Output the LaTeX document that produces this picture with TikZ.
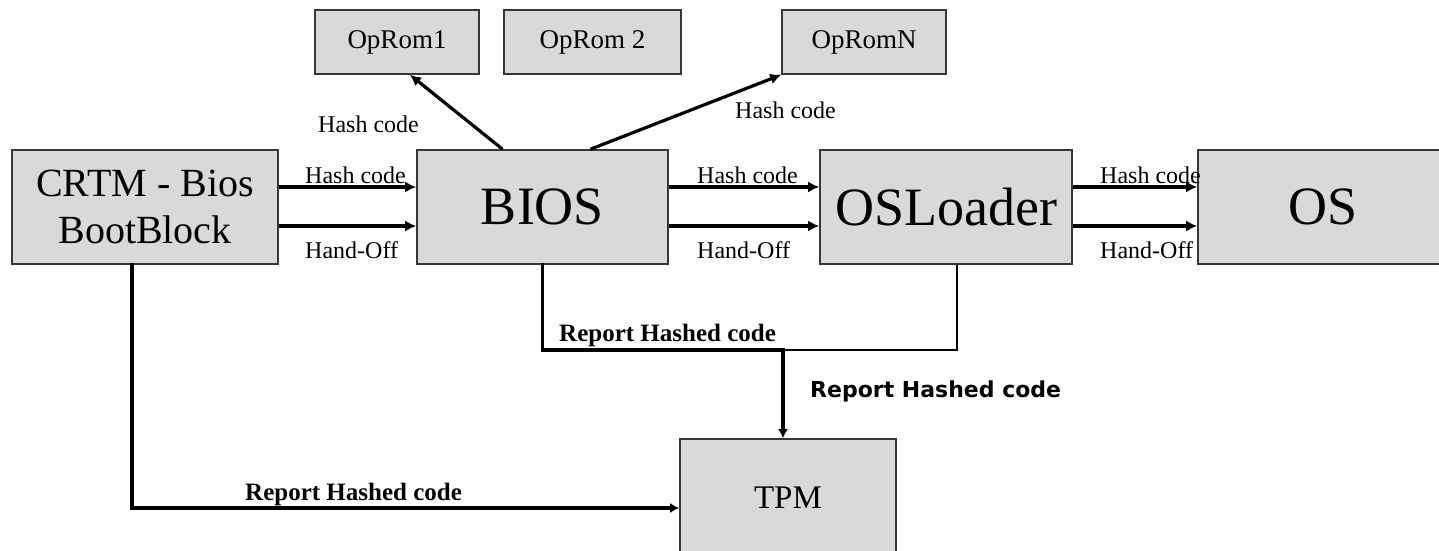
\documentclass[tikz,border=0pt]{standalone}
\usepackage{fontspec}
\setmainfont{Liberation Serif}
\newfontfamily\verdanafont{DejaVu Sans}
\usetikzlibrary{arrows.meta}
\definecolor{boxgray}{RGB}{217,217,217}
\definecolor{edgegray}{RGB}{55,55,55}
\tikzset{
  blk/.style={draw=edgegray, line width=1.6pt, fill=boxgray, inner sep=0pt, align=center},
  flow/.style={line width=3.2pt, -{Latex[length=11pt,width=11pt]}},
  rep/.style={line width=3.6pt, line cap=rect},
  lbl/.style={inner sep=0pt, font=\fontsize{24}{28}\selectfont},
  replbl/.style={inner sep=0pt, font=\fontsize{25}{28}\selectfont\bfseries},
}
\begin{document}
\begin{tikzpicture}[x=1pt,y=-1pt]
\useasboundingbox (0,0) rectangle (1439,550);
\node [blk, minimum width=266pt, minimum height=114pt, font=\fontsize{40}{47}\selectfont] (crtm) at (145,207) {CRTM - Bios\\BootBlock};
\node [blk, minimum width=251pt, minimum height=114pt, font=\fontsize{54}{60}\selectfont] (bios) at (542.5,207) {BIOS};
\node [blk, minimum width=252pt, minimum height=114pt, font=\fontsize{54}{60}\selectfont] (osl) at (946,207) {OSLoader};
\node [blk, minimum width=250pt, minimum height=114pt, font=\fontsize{54}{60}\selectfont] (os) at (1323,207) {OS};
\node [blk, minimum width=164pt, minimum height=64pt, font=\fontsize{27}{30}\selectfont] (oprom1) at (397,42) {OpRom1};
\node [blk, minimum width=177pt, minimum height=64pt, font=\fontsize{27}{30}\selectfont] (oprom2) at (592.5,42) {OpRom 2};
\node [blk, minimum width=164pt, minimum height=64pt, font=\fontsize{27}{30}\selectfont] (opromn) at (864,42) {OpRomN};
\node [blk, minimum width=216pt, minimum height=118pt, font=\fontsize{33}{36}\selectfont] (tpm) at (788,498) {TPM};

\draw [flow] ([yshift=20pt]crtm.east) -- ([yshift=20pt]bios.west);
\draw [flow] ([yshift=-19pt]crtm.east) -- ([yshift=-19pt]bios.west);
\draw [flow] ([yshift=20pt]bios.east) -- ([yshift=20pt]osl.west);
\draw [flow] ([yshift=-19pt]bios.east) -- ([yshift=-19pt]osl.west);
\draw [flow] ([yshift=20pt]osl.east) -- ([yshift=20pt]os.west);
\draw [flow] ([yshift=-19pt]osl.east) -- ([yshift=-19pt]os.west);
\draw [flow] ([xshift=-40pt]bios.north) -- ([xshift=13pt]oprom1.south);
\draw [flow] ([xshift=48pt]bios.north) -- (opromn.south west);

\node [lbl, anchor=base west] (hc1) at (305,183) {Hash code};
\node [lbl, anchor=base west] (ho1) at (305,258) {Hand-Off};
\node [lbl, anchor=base west] (hc2) at (697,183) {Hash code};
\node [lbl, anchor=base west] (ho2) at (697,258) {Hand-Off};
\node [lbl, anchor=base west] (hc3) at (1100,183) {Hash code};
\node [lbl, anchor=base west] (ho3) at (1100,258) {Hand-Off};
\node [lbl, anchor=base west] (hcl) at (318,132) {Hash code};
\node [lbl, anchor=base west] (hcr) at (735,118) {Hash code};

\coordinate (join) at (783,350);
\draw [rep] (bios.south) |- (join);
\draw [black, line width=1.6pt] ([xshift=11pt]osl.south) |- (join);
\draw [rep, -{Latex[length=9pt,width=10pt]}] (join) -- (join |- tpm.north);
\draw [rep, -{Latex[length=9pt,width=10pt]}] ([xshift=-13pt]crtm.south) |- ([yshift=-10pt]tpm.west);

\node [replbl, anchor=base west] (rh1) at (559,341) {Report Hashed code};
\node [inner sep=0pt, anchor=base west, font=\verdanafont\bfseries\fontsize{22}{26}\selectfont] (rh2) at (810,397) {Report Hashed code};
\node [replbl, anchor=base west] (rh3) at (245,500) {Report Hashed code};
\end{tikzpicture}
\end{document}
